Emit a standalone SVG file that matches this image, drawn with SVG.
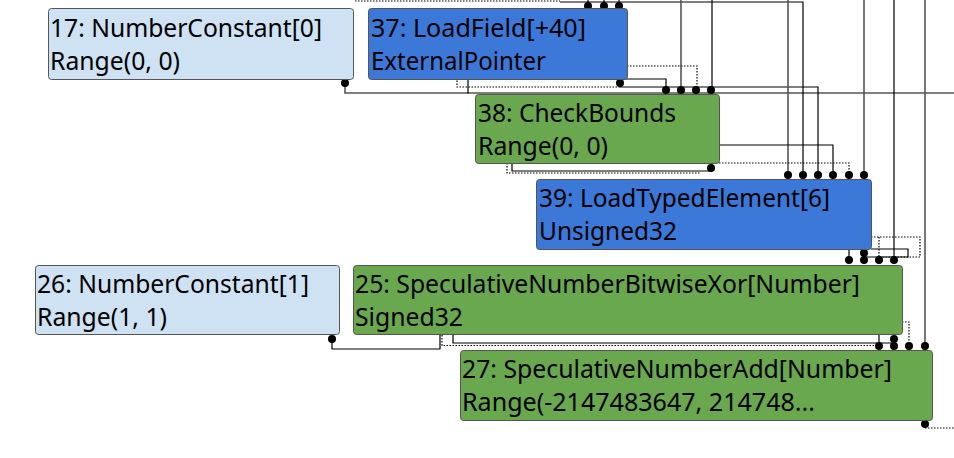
<svg xmlns="http://www.w3.org/2000/svg" width="954" height="458" viewBox="0 0 954 458">
<style>
.e{fill:none;stroke:#000;stroke-width:1.2}
.g{fill:none;stroke:#555;stroke-width:1.6}
.d{fill:none;stroke:#000;stroke-width:1.2;stroke-dasharray:1.5 1.5}
.dot{fill:#000}
.n rect{stroke:#555;stroke-width:1}
.c rect{fill:#cfe2f3}
.b rect{fill:#3c78d8}
.gr rect{fill:#6aa84f}
text{font-family:"Noto Sans","Open Sans",sans-serif;font-size:25px;fill:#000}
</style>
<rect width="954" height="458" fill="#fff"/>
<g id="connectors">
<path class="g" d="M345,83 V93 H954"/>
<path class="e" d="M468,79 V93.5"/>
<path class="e" d="M560,2 H803 V175"/>
<path class="e" d="M588,0 V6 M604,0 V6 M619,0 V6"/>
<path class="g" d="M681,0 V90"/>
<path class="e" d="M712,0 V90"/>
<path class="e" d="M620,79 H666 V90"/>
<path class="e" d="M620,87 H818 V175"/>
<path class="g" d="M788,0 V175"/>
<path class="g" d="M864,0 V175"/>
<path class="e" d="M894,0 V260"/>
<path class="g" d="M925,0 V346"/>
<path class="e" d="M719,145 H833 V175"/>
<path class="e" d="M711,168 V171 H512 V163"/>
<path class="e" d="M871,249 H908 V257 H864"/>
<path class="e" d="M849,249 V260 M864,253 V260"/>
<path class="e" d="M332,339 V349 H440 V335"/>
<path class="e" d="M894,339 V343 H453 V335 M894,339 V346"/>
<path class="e" d="M879,335 V346"/>
<path class="e" d="M925,424 V428"/>
<path class="d" d="M355,1 H560"/>
<path class="d" d="M627,66 H697 V90"/>
<path class="d" d="M620,87 H457 V79"/>
<path class="d" d="M719,163 H849 V175"/>
<path class="d" d="M507,163 V173 H700"/>
<path class="d" d="M871,237 H920 V257 H879 M879,237 V260"/>
<path class="d" d="M442,335 V345.5 H880"/>
<path class="d" d="M902,322 H909 V346"/>
<path class="d" d="M925,428 H954"/>
<g class="dot">
<circle cx="345" cy="83" r="4"/><circle cx="620" cy="83" r="4"/>
<circle cx="588" cy="6" r="4"/><circle cx="604" cy="6" r="4"/><circle cx="619" cy="6" r="4"/>
<circle cx="666" cy="90" r="4"/><circle cx="681" cy="90" r="4"/><circle cx="696" cy="90" r="4"/><circle cx="711" cy="90" r="4"/>
<circle cx="711" cy="168" r="4"/>
<circle cx="788" cy="175" r="4"/><circle cx="803" cy="175" r="4"/><circle cx="818" cy="175" r="4"/><circle cx="833" cy="175" r="4"/><circle cx="849" cy="175" r="4"/><circle cx="864" cy="175" r="4"/>
<circle cx="864" cy="253" r="4"/>
<circle cx="849" cy="260" r="4"/><circle cx="864" cy="260" r="4"/><circle cx="879" cy="260" r="4"/><circle cx="894" cy="260" r="4"/>
<circle cx="332" cy="339" r="4"/><circle cx="894" cy="339" r="4"/>
<circle cx="879" cy="346" r="4"/><circle cx="894" cy="346" r="4"/><circle cx="909" cy="346" r="4"/><circle cx="925" cy="346" r="4"/>
<circle cx="925" cy="424" r="4"/>
</g>
</g>
<g id="n17" class="n c"><rect x="48.5" y="8.5" width="305" height="71" rx="3"/>
<text x="50" y="37" textLength="272" lengthAdjust="spacingAndGlyphs">17: NumberConstant[0]</text>
<text x="50" y="70" textLength="130" lengthAdjust="spacingAndGlyphs">Range(0, 0)</text></g>
<g id="n37" class="n b"><rect x="368.5" y="8.5" width="259" height="71" rx="3"/>
<text x="371" y="37" textLength="215" lengthAdjust="spacingAndGlyphs">37: LoadField[+40]</text>
<text x="371" y="70" textLength="175" lengthAdjust="spacingAndGlyphs">ExternalPointer</text></g>
<g id="n38" class="n gr"><rect x="475.5" y="94.5" width="244" height="69" rx="3"/>
<text x="478" y="122" textLength="198" lengthAdjust="spacingAndGlyphs">38: CheckBounds</text>
<text x="478" y="155" textLength="130" lengthAdjust="spacingAndGlyphs">Range(0, 0)</text></g>
<g id="n39" class="n b"><rect x="536.5" y="179.5" width="335" height="70" rx="3"/>
<text x="539" y="207" textLength="291" lengthAdjust="spacingAndGlyphs">39: LoadTypedElement[6]</text>
<text x="539" y="240" textLength="138" lengthAdjust="spacingAndGlyphs">Unsigned32</text></g>
<g id="n26" class="n c"><rect x="35.5" y="265.5" width="304" height="69" rx="3"/>
<text x="37" y="293" textLength="272" lengthAdjust="spacingAndGlyphs">26: NumberConstant[1]</text>
<text x="37" y="326" textLength="130" lengthAdjust="spacingAndGlyphs">Range(1, 1)</text></g>
<g id="n25" class="n gr"><rect x="353.5" y="265.5" width="549" height="69" rx="3"/>
<text x="355" y="293" textLength="505" lengthAdjust="spacingAndGlyphs">25: SpeculativeNumberBitwiseXor[Number]</text>
<text x="355" y="326" textLength="108" lengthAdjust="spacingAndGlyphs">Signed32</text></g>
<g id="n27" class="n gr"><rect x="460.5" y="350.5" width="472" height="70" rx="3"/>
<text x="462" y="378" textLength="430" lengthAdjust="spacingAndGlyphs">27: SpeculativeNumberAdd[Number]</text>
<text x="462" y="411" textLength="353" lengthAdjust="spacingAndGlyphs">Range(-2147483647, 214748...</text></g>
</svg>
